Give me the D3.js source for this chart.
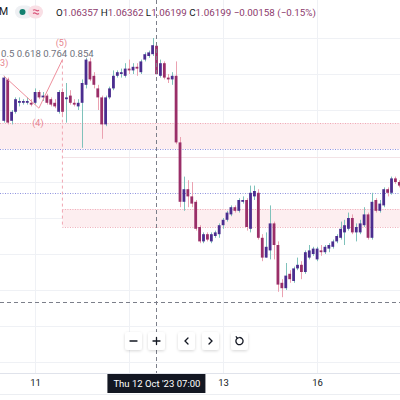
<!DOCTYPE html>
<html>
<head>
<meta charset="utf-8">
<script src="https://cdnjs.cloudflare.com/ajax/libs/d3/7.8.5/d3.min.js"></script>
<style>
html, body { margin: 0; padding: 0; background: #fff; overflow: hidden; }
svg { display: block; font-family: Roboto, "Liberation Sans", sans-serif; }
</style>
</head>
<body>
<svg id="chart" width="400" height="400"></svg>
<script>
// EURUSD 1h candles, hour 0 = Wed 11 Oct 00:00, first visible candle 10 Oct 16:00
var firstHour = -8;
var open = [1.0594, 1.0617, 1.0594, 1.0599, 1.0604, 1.0604, 1.0604, 1.0604,
	1.0604, 1.0610, 1.0607, 1.0608, 1.0606, 1.0604, 1.0599, 1.0610, 1.0606, 1.0608,
	1.0604, 1.0602, 1.0604, 1.0614, 1.0627, 1.0619, 1.0612, 1.0607, 1.0592, 1.0607,
	1.0612, 1.0619, 1.0620, 1.0619, 1.0623, 1.0622, 1.0624, 1.0621, 1.0628, 1.0630,
	1.0631, 1.06357, 1.0619, 1.0626, 1.0618, 1.0617, 1.0619, 1.0582, 1.0549, 1.0556,
	1.0552, 1.0549, 1.0535, 1.0527, 1.0531, 1.0527, 1.0530, 1.0531, 1.0536, 1.0539,
	1.0542, 1.0546, 1.0544, 1.0549, 1.0550, 1.0534, 1.0552, 1.0554, 1.0529, 1.0518,
	1.0522, 1.0537, 1.0525, 1.0504, 1.0501, 1.0509, 1.0505, 1.0512, 1.0514, 1.0510,
	1.0518, 1.0520, 1.0517, 1.0522, 1.0521, 1.0523, 1.0524, 1.0527, 1.0529, 1.0532,
	1.0534, 1.0540, 1.0532, 1.0532, 1.0536, 1.0542, 1.0529, 1.0550, 1.0544, 1.0547,
	1.0556, 1.0554, 1.0562, 1.0560];
var high = [1.0619, 1.0618, 1.0600, 1.0607, 1.0607, 1.0606, 1.0607, 1.0606,
	1.0612, 1.0611, 1.0610, 1.0609, 1.0607, 1.0606, 1.0611, 1.0612, 1.0615, 1.0611,
	1.0606, 1.0606, 1.0617, 1.0629, 1.0629, 1.0621, 1.0614, 1.0608, 1.0608, 1.0613,
	1.0622, 1.0622, 1.0623, 1.0626, 1.0628, 1.0626, 1.0626, 1.0628, 1.0632, 1.0633,
	1.0640, 1.06362, 1.0628, 1.0627, 1.0620, 1.0621, 1.0627, 1.0585, 1.0563, 1.0561,
	1.0560, 1.0550, 1.0536, 1.0532, 1.0532, 1.0532, 1.0533, 1.0537, 1.0540, 1.0544,
	1.0547, 1.0547, 1.0551, 1.0552, 1.0551, 1.0558, 1.0558, 1.0556, 1.0531, 1.0532,
	1.0547, 1.0538, 1.0527, 1.0506, 1.0515, 1.0511, 1.0513, 1.0518, 1.0516, 1.0522,
	1.0525, 1.0524, 1.0524, 1.0525, 1.0525, 1.0526, 1.0528, 1.0531, 1.0538, 1.0539,
	1.0543, 1.0542, 1.0537, 1.0539, 1.0546, 1.0543, 1.0554, 1.0551, 1.0550, 1.0557,
	1.0557, 1.0563, 1.0563, 1.0561];
var low = [1.0593, 1.0592, 1.0592, 1.0598, 1.0602, 1.0603, 1.0603, 1.0602,
	1.0603, 1.0606, 1.0605, 1.0603, 1.0602, 1.0601, 1.0598, 1.0596, 1.0593, 1.0603,
	1.0602, 1.0600, 1.0579, 1.0612, 1.0616, 1.0612, 1.0600, 1.0584, 1.0591, 1.0606,
	1.0611, 1.0618, 1.0618, 1.0618, 1.0620, 1.0620, 1.0619, 1.0620, 1.0627, 1.0629,
	1.0630, 1.06199, 1.0618, 1.0617, 1.0615, 1.0614, 1.0581, 1.0546, 1.0544, 1.0546,
	1.0546, 1.0533, 1.0526, 1.0526, 1.0527, 1.0526, 1.0529, 1.0529, 1.0534, 1.0538,
	1.0541, 1.0543, 1.0543, 1.0548, 1.0533, 1.0532, 1.0550, 1.0528, 1.0516, 1.0518,
	1.0517, 1.0517, 1.0499, 1.0496, 1.0500, 1.0504, 1.0504, 1.0511, 1.0506, 1.0509,
	1.0517, 1.0519, 1.0516, 1.0519, 1.0520, 1.0521, 1.0523, 1.0526, 1.0528, 1.0525,
	1.0533, 1.0531, 1.0527, 1.0531, 1.0535, 1.0528, 1.0528, 1.0543, 1.0543, 1.0546,
	1.0552, 1.0553, 1.0559, 1.0557];
var close = [1.0618, 1.0593, 1.0599, 1.0606, 1.0605, 1.0605, 1.0605, 1.0603,
	1.0610, 1.0607, 1.0608, 1.0604, 1.0603, 1.0602, 1.0610, 1.0599, 1.0607, 1.0604,
	1.0603, 1.0604, 1.0615, 1.0628, 1.0617, 1.0614, 1.0607, 1.0592, 1.0607, 1.0612,
	1.0619, 1.0621, 1.0621, 1.0623, 1.0622, 1.0624, 1.0623, 1.0627, 1.0631, 1.0632,
	1.0636, 1.06199, 1.0626, 1.0618, 1.0617, 1.0619, 1.0582, 1.0549, 1.0556, 1.0552,
	1.0548, 1.0534, 1.0527, 1.0531, 1.0528, 1.0531, 1.0532, 1.0536, 1.0539, 1.0543,
	1.0546, 1.0544, 1.0550, 1.0550, 1.0535, 1.0554, 1.0555, 1.0529, 1.0518, 1.0524,
	1.0537, 1.0525, 1.0503, 1.0501, 1.0508, 1.0506, 1.0512, 1.0514, 1.0510, 1.0521,
	1.0522, 1.0523, 1.0523, 1.0521, 1.0524, 1.0525, 1.0527, 1.0530, 1.0534, 1.0536,
	1.0540, 1.0532, 1.0535, 1.0537, 1.0542, 1.0529, 1.0549, 1.0544, 1.0548, 1.0556,
	1.0554, 1.0562, 1.0560, 1.0558];

// time axis (hour index) and price grid; the "12" label sits under the crosshair box
var dayHours = [0, 24, 48, 72];
var dayLabels = ["11", "", "13", "16"];
var gridPrices = [1.0640, 1.0620, 1.0600, 1.0580, 1.0560, 1.0540, 1.0520, 1.0500, 1.0480, 1.0460];

// drawings
var waveHours = [-8, 1, 7];
var wavePrices = [1.0619, 1.0601, 1.0628];
var waveLabels = ["(3)", "(4)", "(5)"];
var fibLabels = ["0.5", "0.618", "0.764", "0.854"];
var zone1 = [1.05928, 1.05783];
var zone2 = [1.0545, 1.0535];
var zone2Top = 1.05739;
var blueLines = [1.05783, 1.05539];

// crosshair + legend
var crossHour = 31, crossPrice = 1.04933;
var crossText = ["Thu 12 Oct '23", "07:00"];
var legendKeys = ["O", "H", "L", "C"];
var legendVals = ["1.06357", "1.06362", "1.06199", "1.06199"];
var legendChange = "\u22120.00158 (\u22120.15%)";

var upBody = "#4a2d8f", downBody = "#9a2e68", upWick = "#7fc2bb", downWick = "#eba2b1";

var svg = d3.select("#chart");
var W = 400, axisY = 373;

var x = d3.scaleLinear().domain([0, 48]).range([35, 223]);
var y = d3.scaleLinear().domain([1.0460, 1.0640]).range([362, 38]);

var candles = open.map(function(o, i) {
	return {t: firstHour + i, o: o, h: high[i], l: low[i], c: close[i]};
});

svg.append("rect").attr("width", W).attr("height", 400).attr("fill", "#fff");

// grid
var grid = svg.append("g").attr("stroke", "#eff1f5").attr("stroke-width", 1);
grid.selectAll(".vg").data(dayHours).enter().append("line")
	.attr("x1", function(d) { return Math.round(x(d)) + 0.5; })
	.attr("x2", function(d) { return Math.round(x(d)) + 0.5; })
	.attr("y1", 0).attr("y2", axisY);
grid.selectAll(".hg").data(gridPrices).enter().append("line")
	.attr("x1", 0).attr("x2", W)
	.attr("y1", function(d) { return Math.round(y(d)) + 0.5; })
	.attr("y2", function(d) { return Math.round(y(d)) + 0.5; });

// zones
svg.append("rect").attr("x", 0).attr("width", W)
	.attr("y", y(zone1[0])).attr("height", y(zone1[1]) - y(zone1[0]))
	.attr("fill", "#fdeef0");
svg.append("rect").attr("x", x(waveHours[2])).attr("width", W - x(waveHours[2]))
	.attr("y", y(zone2[0])).attr("height", y(zone2[1]) - y(zone2[0]))
	.attr("fill", "#fdeef0");
svg.append("line").attr("x1", x(waveHours[2])).attr("x2", W)
	.attr("y1", Math.round(y(zone2Top)) + 0.5).attr("y2", Math.round(y(zone2Top)) + 0.5)
	.attr("stroke", "#f3e3e6");

var dotted = svg.append("g").attr("stroke-width", 1).attr("stroke-dasharray", "1,1.5");
dotted.append("line").attr("x1", 0).attr("x2", W)
	.attr("y1", Math.round(y(zone1[0])) + 0.5).attr("y2", Math.round(y(zone1[0])) + 0.5)
	.attr("stroke", "#efa9b6");
[zone2[0], zone2[1]].forEach(function(p) {
	dotted.append("line").attr("x1", x(waveHours[2])).attr("x2", W)
		.attr("y1", Math.round(y(p)) + 0.5).attr("y2", Math.round(y(p)) + 0.5)
		.attr("stroke", "#efa9b6");
});
dotted.selectAll(".bl").data(blueLines).enter().append("line")
	.attr("x1", 0).attr("x2", W)
	.attr("y1", function(d) { return Math.round(y(d)) + 0.5; })
	.attr("y2", function(d) { return Math.round(y(d)) + 0.5; })
	.attr("stroke", "#8f93de");

// vertical dashed line from wave (5) down to zone 2
svg.append("line")
	.attr("x1", x(waveHours[2])).attr("x2", x(waveHours[2]))
	.attr("y1", y(wavePrices[2])).attr("y2", y(zone2[1]))
	.attr("stroke", "#f0a7b3").attr("stroke-dasharray", "3,3");

// candles
var cg = svg.append("g");
cg.selectAll(".wick").data(candles).enter().append("line")
	.attr("x1", function(d) { return Math.round(x(d.t)) + 0.5; })
	.attr("x2", function(d) { return Math.round(x(d.t)) + 0.5; })
	.attr("y1", function(d) { return y(d.h); })
	.attr("y2", function(d) { return y(d.l); })
	.attr("stroke", function(d) { return d.c >= d.o ? upWick : downWick; })
	.attr("stroke-width", 1);
cg.selectAll(".body").data(candles).enter().append("rect")
	.attr("x", function(d) { return x(d.t) - 1.3; })
	.attr("width", 2.8)
	.attr("y", function(d) { return y(Math.max(d.o, d.c)); })
	.attr("height", function(d) { return Math.max(1, Math.abs(y(d.o) - y(d.c))); })
	.attr("fill", function(d) { return d.c >= d.o ? upBody : downBody; });

// elliott wave
var wave = d3.line()
	.x(function(d, i) { return x(waveHours[i]); })
	.y(function(d) { return y(d); });
svg.append("path").attr("d", wave(wavePrices))
	.attr("fill", "none").attr("stroke", "#ee8f9c").attr("stroke-width", 1);
var labelDy = [-10, 18, -13.5];
svg.selectAll(".wl").data(waveLabels).enter().append("text")
	.attr("x", function(d, i) { return x(waveHours[i]) - 1; })
	.attr("y", function(d, i) { return y(wavePrices[i]) + labelDy[i]; })
	.attr("text-anchor", "middle").attr("font-size", 9)
	.attr("fill", "#e6828d").text(function(d) { return d; });

svg.append("text").attr("x", 1).attr("y", 56.5)
	.attr("font-size", 9.6).attr("fill", "#6f727d")
	.text(fibLabels.join(" "));

// crosshair
var ch = svg.append("g").attr("stroke", "#7c7f8a").attr("stroke-dasharray", "4,3");
ch.append("line").attr("x1", Math.round(x(crossHour)) + 0.5).attr("x2", Math.round(x(crossHour)) + 0.5)
	.attr("y1", 0).attr("y2", axisY);
ch.append("line").attr("x1", 0).attr("x2", W)
	.attr("y1", Math.round(y(crossPrice)) + 0.5).attr("y2", Math.round(y(crossPrice)) + 0.5);

// time axis
svg.append("rect").attr("x", 0).attr("y", axisY).attr("width", W).attr("height", 27).attr("fill", "#fff");
svg.append("line").attr("x1", 0).attr("x2", W).attr("y1", axisY + 0.5).attr("y2", axisY + 0.5)
	.attr("stroke", "#e0e3eb");
svg.append("line").attr("x1", 0).attr("x2", W).attr("y1", 394.5).attr("y2", 394.5)
	.attr("stroke", "#eceef2");
var xAxis = d3.axisBottom(x).tickValues(dayHours)
	.tickFormat(function(d, i) { return dayLabels[i]; }).tickSize(0).tickPadding(6);
svg.append("g").attr("transform", "translate(0," + axisY + ")").call(xAxis)
	.call(function(g) { g.select(".domain").remove(); })
	.selectAll("text").attr("font-size", 9.5).attr("fill", "#131722")
	.attr("font-family", "Roboto, 'Liberation Sans', sans-serif");

var cx = x(crossHour);
svg.append("rect").attr("x", cx - 49).attr("y", axisY + 1).attr("width", 98).attr("height", 19)
	.attr("fill", "#131722");
svg.append("text").attr("x", cx - 43).attr("y", axisY + 14).attr("font-size", 9.5)
	.attr("fill", "#fff").text(crossText[0]);
svg.append("text").attr("x", cx + 44).attr("y", axisY + 14).attr("font-size", 9.5)
	.attr("text-anchor", "end").attr("fill", "#fff").text(crossText[1]);

// navigation buttons
var defs = svg.append("defs");
var f = defs.append("filter").attr("id", "sh").attr("x", "-50%").attr("y", "-50%")
	.attr("width", "200%").attr("height", "200%");
f.append("feDropShadow").attr("dx", 0).attr("dy", 1).attr("stdDeviation", 1.4)
	.attr("flood-color", "#000").attr("flood-opacity", 0.16);
var buttons = [133.5, 156.5, 186.5, 210.5, 239.5];
var bg = svg.append("g");
bg.selectAll("rect").data(buttons).enter().append("rect")
	.attr("x", function(d) { return d - 8.5; }).attr("y", 332)
	.attr("width", 17).attr("height", 18).attr("rx", 3)
	.attr("fill", "#fff").attr("filter", "url(#sh)");
var ic = bg.append("g").attr("stroke", "#131722").attr("stroke-width", 1.3)
	.attr("fill", "none").attr("stroke-linecap", "round");
ic.append("path").attr("d", "M" + (buttons[0] - 3.5) + ",341H" + (buttons[0] + 3.5));
ic.append("path").attr("d", "M" + (buttons[1] - 3.5) + ",341H" + (buttons[1] + 3.5) +
	"M" + buttons[1] + ",337.5V344.5");
ic.append("path").attr("d", "M" + (buttons[2] + 1.5) + ",338L" + (buttons[2] - 1.5) + ",341L" + (buttons[2] + 1.5) + ",344");
ic.append("path").attr("d", "M" + (buttons[3] - 1.5) + ",338L" + (buttons[3] + 1.5) + ",341L" + (buttons[3] - 1.5) + ",344");
ic.append("path").attr("d", "M" + (buttons[4] - 2.2) + ",338.2A3.6,3.6 0 1 0 " + (buttons[4] + 0.4) + ",337.5");
ic.append("path").attr("d", "M" + (buttons[4] - 3.4) + ",336.6L" + (buttons[4] - 2.2) + ",338.4L" + (buttons[4] - 0.2) + ",337.6")
	.attr("stroke-width", 1.1);

// legend
svg.append("text").attr("x", -1).attr("y", 15).attr("font-size", 10.5).attr("fill", "#131722").text("M");
svg.append("rect").attr("x", 15).attr("y", 5.5).attr("width", 18).attr("height", 13).attr("rx", 6.5).attr("fill", "#eef0f3");
svg.append("rect").attr("x", 28).attr("y", 5.5).attr("width", 15).attr("height", 13).attr("rx", 6.5).attr("fill", "#f9dfe5");
svg.append("circle").attr("cx", 22.5).attr("cy", 12).attr("r", 3).attr("fill", "#12806f");
svg.append("path").attr("d", "M33,10.3q1.5,-1.2 3,0t3,0M33,13.5q1.5,-1.2 3,0t3,0")
	.attr("fill", "none").attr("stroke", "#d9577c").attr("stroke-width", 1.1);

var leg = svg.append("text").attr("x", 56).attr("y", 15.5).attr("font-size", 9.8);
legendKeys.forEach(function(k, i) {
	leg.append("tspan").attr("fill", "#131722").text((i ? " " : "") + k);
	leg.append("tspan").attr("fill", "#8c3a6c").text(legendVals[i]);
});
leg.append("tspan").attr("fill", "#8c3a6c").text(" " + legendChange);
</script>
</body>
</html>
